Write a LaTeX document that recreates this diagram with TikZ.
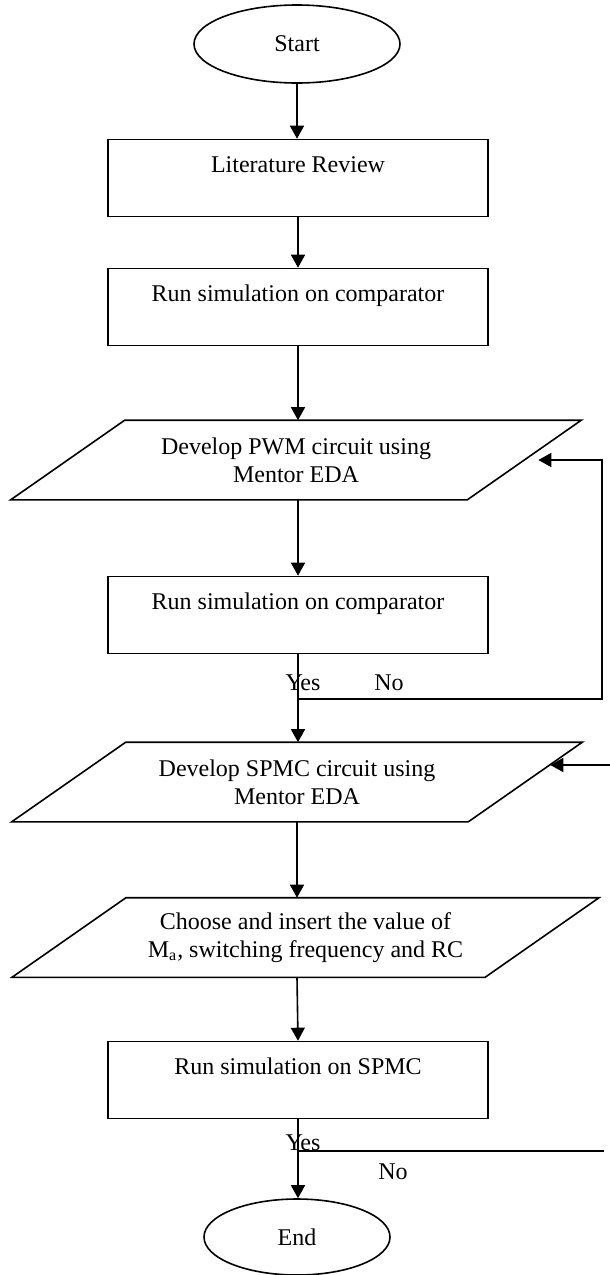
\documentclass[tikz,border=0pt]{standalone}
\usepackage{fontspec}
\setmainfont{Liberation Serif}
\usetikzlibrary{shapes.geometric,arrows.meta}

% slanted outline round an io node
\newcommand{\slantbox}[1]{\draw ([xshift=28.5pt]#1.north west) --
  ([xshift=28.5pt]#1.north east) -- ([xshift=-28.5pt]#1.south east) --
  ([xshift=-28.5pt]#1.south west) -- cycle;}

\begin{document}
\begin{tikzpicture}[x=0.5pt,y=-0.5pt,line width=0.8pt,
    font=\fontsize{12pt}{14pt}\selectfont,
    >={Triangle[length=6.5pt,width=7pt]},
    term/.style={ellipse,draw,minimum height=39pt},
    stepbox/.style={rectangle,draw,minimum width=190pt,inner ysep=0pt,
      text height=16.5pt,text depth=22pt},
    io/.style={rectangle,minimum width=227.5pt,minimum height=39pt,
      align=center}]
  \useasboundingbox (0,0) rectangle (610,1275);
  % main column
  \node (start) at (297,44) [term,minimum width=103pt] {Start};
  \node (lit) at (298,178) [stepbox] {Literature Review};
  \node (runcmp1) at (298,307) [stepbox] {Run simulation on comparator};
  \node (pwm) at (296,460) [io] {Develop PWM circuit using\\ Mentor EDA};
  \slantbox{pwm}
  \node (runcmp2) at (298,615) [stepbox] {Run simulation on comparator};
  \node (spmc) at (297,782) [io] {Develop SPMC circuit using\\ Mentor EDA};
  \slantbox{spmc}
  \node (choose) at (305.5,937.5) [io,minimum width=235.75pt]
    {Choose and insert the value of\\ M\textsubscript{a}, switching frequency and RC};
  \slantbox{choose}
  \node (runspmc) at (298,1080) [stepbox] {Run simulation on SPMC};
  \node (end) at (297,1237) [term,minimum height=38pt,minimum width=93pt] {End};
  \draw[->] (start.south) -- (start.south |- lit.north);
  \draw[->] (lit.south) -- (runcmp1.north);
  \draw[->] (runcmp1.south) -- (runcmp1.south |- pwm.north);
  \draw[->] (pwm.south -| runcmp1.south) -- (runcmp2.north);
  \draw[->] (runcmp2.south) -- (runcmp2.south |- spmc.north);
  \draw[->] (spmc.south) -- (spmc.south |- choose.north);
  \draw[->] (spmc.south |- choose.south) -- (runspmc.north);
  \draw[->] (runspmc.south) -- (runspmc.south |- end.north);
  % decision branches
  \coordinate (no1) at (297,699); \coordinate (no1r) at (602,699);
  \draw[->] (no1) -- (no1r) |- ([xshift=7pt]pwm.east);
  \node (yes1) at (303,683) {Yes}; \node (nolab1) at (389,683) {No};
  \coordinate (redge) at (610,0);
  \coordinate (spmcin) at ([shift={(25,-17)}]spmc.east);
  \draw[->] (redge |- spmcin) -- (spmcin);
  \coordinate (no2) at (297,1151); \coordinate (no2r) at (604,1151);
  \draw (no2) -- (no2r);
  \node (yes2) at (303,1143) {Yes}; \node (nolab2) at (393,1172) {No};
\end{tikzpicture}
\end{document}
